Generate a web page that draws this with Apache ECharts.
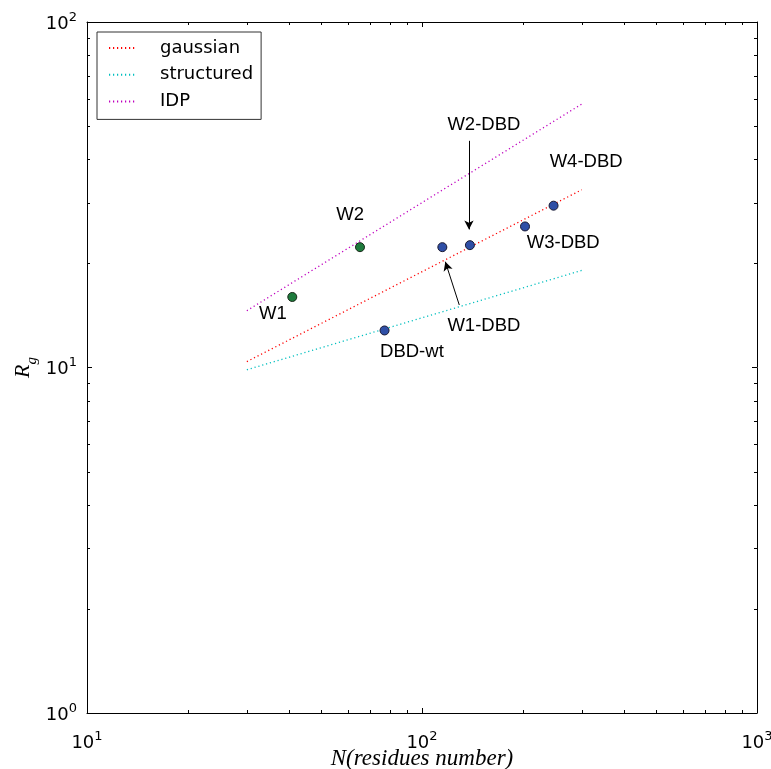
<!DOCTYPE html>
<html>
<head>
<meta charset="utf-8">
<script src="https://cdn.jsdelivr.net/npm/echarts@6/dist/echarts.min.js"></script>
<style>
html,body{margin:0;padding:0;background:#fff;}
#chart{width:771px;height:769px;}
</style>
</head>
<body>
<div id="chart"></div>
<script>
// Reference lines (N, Rg) endpoints
const gaussianLine = [[30, 10.4], [300, 32.7]];
const structuredLine = [[30, 9.85], [300, 19.1]];
const idpLine = [[30, 14.6], [300, 57.9]];

// Measured proteins
const greenPoints = [[41.0, 16.0], [65.3, 22.3]];
const bluePoints = [[77.3, 12.8], [115, 22.3], [139, 22.6], [203, 25.6], [247, 29.4]];

// Annotation text anchors (N, Rg, text)
const annotations = [
  [35.9, 14.3, 'W1'],
  [61.0, 27.6, 'W2'],
  [153, 50.3, 'W2-DBD'],
  [309, 39.3, 'W4-DBD'],
  [264, 22.9, 'W3-DBD'],
  [153, 13.2, 'W1-DBD'],
  [93.3, 11.1, 'DBD-wt']
];
// Arrows: [from, to]
const arrows = [
  [[138.1, 45.3], [138.1, 25.1]],
  [[129.2, 15.17], [117.4, 20.24]]
];

// Ticks
const xMinorTicks = [20, 30, 40, 50, 60, 70, 80, 90, 200, 300, 400, 500, 600, 700, 800, 900];
const yMinorTicks = [2, 3, 4, 5, 6, 7, 8, 9, 20, 30, 40, 50, 60, 70, 80, 90];

const chart = echarts.init(document.getElementById('chart'));

const labelRich = {
  b: {fontFamily: 'DejaVu Sans', fontSize: 18, color: '#000', lineHeight: 22, verticalAlign: 'bottom'},
  s: {fontFamily: 'DejaVu Sans', fontSize: 13, color: '#000', lineHeight: 22, verticalAlign: 'top', padding: [0, 0, 10, 0]}
};
const powFmt = v => '{b|10}{s|' + Math.round(Math.log10(v)) + '}';

const axisCommon = {
  type: 'log',
  logBase: 10,
  axisLine: {show: true, onZero: false, lineStyle: {color: '#000', width: 1}},
  axisTick: {show: true, inside: true, length: 5, lineStyle: {color: '#000', width: 1}},
  splitLine: {show: false},
  minorTick: {show: false},
  minorSplitLine: {show: false}
};

function minorRender(isX) {
  return function (params, api) {
    const cs = params.coordSys;
    const v = api.value(isX ? 0 : 1);
    const p = isX ? api.coord([v, 10]) : api.coord([100, v]);
    const st = {stroke: '#000', lineWidth: 1};
    if (isX) {
      const x = Math.round(p[0]) + 0.5;
      return {type: 'group', children: [
        {type: 'line', shape: {x1: x, y1: cs.y + cs.height, x2: x, y2: cs.y + cs.height - 3}, style: st},
        {type: 'line', shape: {x1: x, y1: cs.y, x2: x, y2: cs.y + 3}, style: st}
      ]};
    } else {
      const y = Math.round(p[1]) + 0.5;
      return {type: 'group', children: [
        {type: 'line', shape: {x1: cs.x, y1: y, x2: cs.x + 3, y2: y}, style: st},
        {type: 'line', shape: {x1: cs.x + cs.width, y1: y, x2: cs.x + cs.width - 3, y2: y}, style: st}
      ]};
    }
  };
}

const option = {
  backgroundColor: '#fff',
  animation: false,
  grid: {left: 87, right: 14, top: 22, bottom: 56, containLabel: false, outerBoundsMode: 'none'},
  legend: {
    data: ['gaussian', 'structured', 'IDP'],
    orient: 'vertical',
    left: 97,
    top: 32,
    padding: [6, 8, 8, 11],
    itemGap: 6.7,
    itemWidth: 27,
    itemHeight: 14,
    borderColor: '#333',
    borderWidth: 1,
    borderRadius: 0,
    backgroundColor: '#fff',
    itemStyle: {opacity: 0},
    textStyle: {fontFamily: 'DejaVu Sans', fontSize: 18, color: '#000', lineHeight: 20, padding: [0, 0, 0, 19]}
  },
  xAxis: [
    Object.assign({}, axisCommon, {
      min: 10, max: 1000, position: 'bottom',
      axisLabel: {formatter: powFmt, rich: labelRich, margin: 17},
      name: 'N(residues number)',
      nameLocation: 'middle',
      nameGap: 34,
      nameMoveOverlap: false,
      nameTextStyle: {fontFamily: 'Liberation Serif', fontStyle: 'italic', fontSize: 23, color: '#000'}
    }),
    Object.assign({}, axisCommon, {
      min: 10, max: 1000, position: 'top', axisLabel: {show: false}
    })
  ],
  yAxis: [
    Object.assign({}, axisCommon, {
      min: 1, max: 100, position: 'left',
      axisLabel: {formatter: powFmt, rich: labelRich, margin: 10},
      name: '{r|R}{g|g}',
      nameLocation: 'middle',
      nameGap: 53,
      nameMoveOverlap: false,
      nameRotate: 90,
      nameTextStyle: {rich: {
        r: {fontFamily: 'Liberation Serif', fontStyle: 'italic', fontSize: 22, color: '#000', lineHeight: 26, verticalAlign: 'bottom'},
        g: {fontFamily: 'Liberation Serif', fontStyle: 'italic', fontSize: 15, color: '#000', lineHeight: 26, verticalAlign: 'bottom', padding: [0, 0, -6, 0]}
      }}
    }),
    Object.assign({}, axisCommon, {
      min: 1, max: 100, position: 'right', axisLabel: {show: false}
    })
  ],
  series: [
    {name: 'gaussian', type: 'line', data: gaussianLine, symbol: 'none', color: '#ff0000',
     lineStyle: {color: '#ff0000', width: 1.3, type: [1.2, 2.8]}, z: 3},
    {name: 'structured', type: 'line', data: structuredLine, symbol: 'none', color: '#00bfbf',
     lineStyle: {color: '#00bfbf', width: 1.3, type: [1.2, 2.8]}, z: 3},
    {name: 'IDP', type: 'line', data: idpLine, symbol: 'none', color: '#bf00bf',
     lineStyle: {color: '#bf00bf', width: 1.3, type: [1.2, 2.8]}, z: 3},
    {name: 'green', type: 'scatter', data: greenPoints, symbol: 'circle', symbolSize: 9,
     itemStyle: {color: '#1e7b3d', borderColor: '#1a2a1a', borderWidth: 1, opacity: 1}, z: 5},
    {name: 'blue', type: 'scatter', data: bluePoints, symbol: 'circle', symbolSize: 9,
     itemStyle: {color: '#2f4fa6', borderColor: '#1a1a33', borderWidth: 1, opacity: 1}, z: 5},
    {name: 'annotations', type: 'scatter', data: annotations, symbolSize: 0,
     label: {show: true, position: 'inside', formatter: p => p.data[2],
       fontFamily: 'Liberation Sans', fontSize: 18.5, color: '#000', opacity: 1},
     itemStyle: {opacity: 1},
     markLine: {
       silent: true,
       symbol: ['none', 'arrow'],
       symbolSize: [7, 9],
       label: {show: false},
       lineStyle: {color: '#000', width: 1, type: 'solid'},
       data: arrows.map(a => [{coord: a[0]}, {coord: a[1]}])
     }, z: 6},
    {name: 'xminor', type: 'custom', data: xMinorTicks.map(v => [v, 10]), renderItem: minorRender(true), silent: true, z: 10},
    {name: 'yminor', type: 'custom', data: yMinorTicks.map(v => [100, v]), renderItem: minorRender(false), silent: true, z: 10}
  ]
};
chart.setOption(option);
</script>
</body>
</html>
